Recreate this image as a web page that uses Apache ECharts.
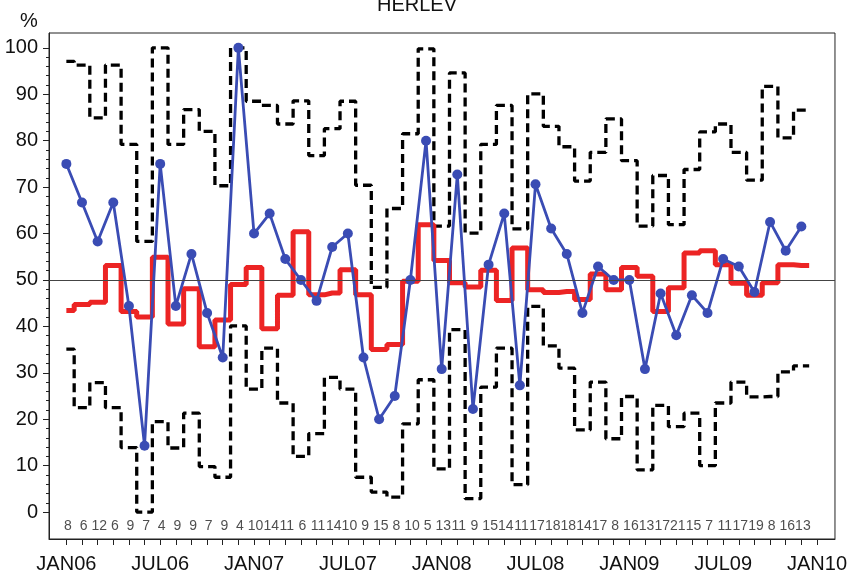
<!DOCTYPE html>
<html><head><meta charset="utf-8">
<script src="https://cdn.jsdelivr.net/npm/echarts@6/dist/echarts.min.js"></script>
<style>html,body{margin:0;padding:0;background:#fff}#c{width:850px;height:575px}</style>
</head><body><div id="c"></div><script>
// Month index 0 = JAN06 ... 47 = DEC09
const tickLabels = ['JAN06','JUL06','JAN07','JUL07','JAN08','JUL08','JAN09','JUL09','JAN10'];
const counts = [8,6,12,6,9,7,4,9,9,7,9,4,10,14,11,6,11,14,10,9,15,8,10,5,13,11,9,15,14,11,17,18,18,14,17,8,16,13,17,21,15,7,11,17,19,8,16,13];
const observed = [75,66.7,58.3,66.7,44.4,14.3,75,44.4,55.6,42.9,33.3,100,60,64.3,54.5,50,45.5,57.1,60,33.3,20,25,50,80,30.8,72.7,22.2,53.3,64.3,27.3,70.6,61.1,55.6,42.9,52.9,50,50,30.8,47.1,38.1,46.7,42.9,54.5,52.9,47.4,62.5,56.3,61.5];
const expected = [43.4,44.7,45.2,53.1,43.2,42.0,54.9,40.5,48.1,35.6,41.4,49.0,52.7,39.5,46.7,60.4,46.8,47.2,52.2,46.8,35.0,36.1,49.7,61.9,54.2,49.4,48.5,52.1,45.6,56.9,47.9,47.3,47.5,45.8,51.3,47.9,52.7,50.8,43.2,48.3,55.8,56.3,53.3,49.3,46.7,49.4,53.3,53.1];
const upper = [97.1,96.3,84.9,96.3,79.2,58.3,100,79.2,86.7,82.0,70.3,100,88.5,87.6,83.6,88.6,76.8,82.6,88.5,70.4,48.4,65.4,81.5,99.8,61.6,94.6,60.1,79.2,87.6,61.0,90.1,83.1,78.7,71.3,77.5,84.7,75.7,61.6,72.5,61.9,73.8,81.9,83.6,77.5,71.5,91.7,80.6,86.6];
const lower = [35.1,22.5,27.9,22.5,13.9,0,19.5,13.8,21.3,9.8,7.5,40.1,26.5,35.3,23.5,12.0,16.9,29.0,26.5,7.5,4.3,3.2,19.0,28.5,9.3,39.3,2.9,26.9,35.3,5.9,44.3,35.8,31.0,17.7,28.0,15.8,24.9,9.1,23.0,18.4,21.3,10.0,23.5,28.0,24.8,24.9,30.2,31.5];
const refLevel = 50;

const monthTicks = []; for (let i = 0; i <= 48; i++) monthTicks.push(i);
const majorY = []; for (let v = 0; v <= 100; v += 10) majorY.push(v);
const minorY = []; for (let v = 0; v <= 100; v += 2) minorY.push(v);
const labelTicks = tickLabels.map((_, i) => i * 6);

function stepData(arr) {
  const d = arr.map((v, i) => [i, v]);
  d.push([arr.length - 0.5, arr[arr.length - 1]]);
  return d;
}

const FONT = "'Liberation Sans', Arial, sans-serif";
const YMIN = -5.8, YMAX = 103.2;
const chart = echarts.init(document.getElementById('c'), null, {renderer: 'canvas'});
const dashed = {color: '#000', width: 3.3, type: [9, 5]};

chart.setOption({
  animation: false,
  textStyle: {fontFamily: FONT},
  graphic: [
    {type: 'text', left: 377, top: -5, style: {text: 'HERLEV', font: "20px " + FONT, fill: '#111'}},
    {type: 'text', left: 20, top: 11, style: {text: '%', font: "20px " + FONT, fill: '#111'}}
  ],
  grid: {left: 49, top: 33, right: 14, bottom: 36, show: true, borderColor: '#222', borderWidth: 1},
  xAxis: {
    type: 'value', min: -1.11, max: 49.15,
    splitLine: {show: false},
    axisLine: {show: true, onZero: false, lineStyle: {color: '#222', width: 1}},
    axisTick: {show: true, customValues: monthTicks, length: 6, lineStyle: {color: '#222'}},
    axisLabel: {customValues: labelTicks, formatter: v => tickLabels[Math.round(v / 6)] || '', fontSize: 20, color: '#111', margin: 15, fontFamily: FONT}
  },
  yAxis: [{
    type: 'value', min: YMIN, max: YMAX,
    splitLine: {show: false},
    axisLine: {show: true, onZero: false, lineStyle: {color: '#222', width: 1}},
    axisTick: {show: true, customValues: majorY, length: 6, lineStyle: {color: '#222'}},
    axisLabel: {customValues: majorY, fontSize: 20, color: '#111', margin: 11, fontFamily: FONT}
  }, {
    type: 'value', min: YMIN, max: YMAX, position: 'left', offset: 0,
    splitLine: {show: false},
    axisLine: {show: false, onZero: false},
    axisTick: {show: true, customValues: minorY, length: 3, lineStyle: {color: '#222'}},
    axisLabel: {show: false}
  }],
  series: [
    {type: 'line', name: 'upper', step: 'middle', data: stepData(upper), showSymbol: false, symbol: 'none', lineStyle: dashed, z: 2},
    {type: 'line', name: 'lower', step: 'middle', data: stepData(lower), showSymbol: false, symbol: 'none', lineStyle: dashed, z: 2},
    {type: 'line', name: 'expected', step: 'middle', data: stepData(expected), symbol: 'none', lineStyle: {color: '#ec2424', width: 5}, z: 3},
    {type: 'line', name: 'observed', data: observed.map((v, i) => [i, v]), symbol: 'circle', symbolSize: 10,
      lineStyle: {color: '#3a4cb4', width: 2.8}, itemStyle: {color: '#3a4cb4'}, z: 4,
      markLine: {silent: true, symbol: 'none', label: {show: false}, lineStyle: {color: '#444', width: 1, type: 'solid'}, data: [{yAxis: refLevel}]}},
    {type: 'scatter', name: 'n', data: counts.map((n, i) => [i + 0.1, -3.1, n]), symbolSize: 1, itemStyle: {color: 'rgba(0,0,0,0)'},
      label: {show: true, position: 'inside', formatter: p => String(p.data[2]), fontSize: 14, color: '#222', fontFamily: "'Liberation Sans Narrow', " + FONT}, z: 5}
  ]
});
</script></body></html>
